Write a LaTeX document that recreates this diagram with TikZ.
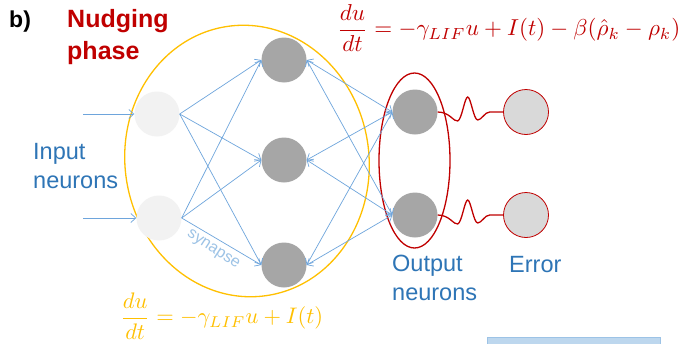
\documentclass[tikz,border=0pt]{standalone}
\usepackage{fontspec}
\setmainfont{Liberation Sans}
\usetikzlibrary{arrows.meta}
\definecolor{txtblue}{RGB}{46,117,182}
\definecolor{connblue}{RGB}{110,165,220}
\definecolor{synblue}{RGB}{157,195,230}
\definecolor{nred}{RGB}{192,0,0}
\definecolor{nyellow}{RGB}{255,192,0}
\definecolor{inputgray}{RGB}{242,242,242}
\definecolor{hidgray}{RGB}{166,166,166}
\definecolor{errgray}{RGB}{217,217,217}
\definecolor{boxblue}{RGB}{189,215,238}
\tikzset{
  neuron/.style={circle,minimum size=45pt,inner sep=0pt},
  inneuron/.style={neuron,fill=inputgray},
  hidneuron/.style={neuron,fill=hidgray},
  errneuron/.style={neuron,fill=errgray,draw=nred,line width=0.8pt},
  conn/.style={draw=connblue,line width=0.7pt,-{Straight Barb[length=5pt,width=9pt]}},
  biconn/.style={draw=connblue,line width=0.7pt,{Straight Barb[length=5pt,width=9pt]}-{Straight Barb[length=5pt,width=9pt]}},
  wave/.style={draw=nred,line width=1.3pt},
  lbl/.style={text=txtblue,font=\fontsize{23.5}{29}\selectfont,align=left,inner sep=0pt},
}
\begin{document}
\begin{tikzpicture}[x=1pt,y=-1pt]
\clip (0,0) rectangle (685,343);
\fill[white] (0,0) rectangle (685,343);

% title
\node[anchor=base west,inner sep=0pt,font=\fontsize{23}{28}\selectfont\bfseries] (b) at (9,27) {b)};
\node[anchor=base west,inner sep=0pt,text=nred,font=\fontsize{25}{32}\selectfont\bfseries] (t1) at (67,27) {Nudging};
\node[anchor=base west,inner sep=0pt,text=nred,font=\fontsize{25}{32}\selectfont\bfseries] (t2) at (67,59) {phase};

% yellow ellipse
\draw[nyellow,line width=1.3pt,rotate around={8:(247,161)}] (247,161) ellipse [x radius=122pt,y radius=136pt];
% red ellipse
\draw[nred,line width=1.3pt] (414.5,160.5) ellipse [x radius=35.5pt,y radius=87.5pt];

% neurons
\node[inneuron] (in1) at (157,114) {};
\node[inneuron] (in2) at (159,218) {};
\node[hidneuron] (h1) at (284,60) {};
\node[hidneuron] (h2) at (284,160) {};
\node[hidneuron] (h3) at (284,265) {};
\node[hidneuron] (o1) at (415,112) {};
\node[hidneuron] (o2) at (415,215) {};
\node[errneuron] (e1) at (526,112) {};
\node[errneuron] (e2) at (526,215) {};

% inputs
\coordinate (s1) at (83,114);
\coordinate (s2) at (83,218);
\draw[conn] (s1) -- (in1.west);
\draw[conn] (s2) -- (in2.west);

% input -> hidden
\foreach \i in {in1,in2}{
  \foreach \h in {h1,h2,h3}{
    \draw[conn] (\i.east) -- (\h.west);
  }
}
% hidden <-> output
\foreach \h in {h1,h2,h3}{
  \foreach \o in {o1,o2}{
    \draw[biconn] (\h.east) -- (\o.west);
  }
}

% wavy links
\foreach \o/\e in {o1/e1,o2/e2}{
  \draw[wave] (\o.east) .. controls +(12,0) and +(-4,1) .. ++(20,9)
    .. controls +(4,-1) and +(-3,0) .. ++(10,-24)
    .. controls +(3,0) and +(-4,0) .. ++(10,23)
    .. controls +(4,0) and +(-5,0) .. ++(12,-8) -- (\e.west);
}

% labels
\node[lbl,anchor=base west] (inlbl) at (33,188) {Input\\neurons};
\node[lbl,anchor=base west] (outlbl) at (392,300) {Output\\neurons};
\node[lbl,anchor=base west] (errlbl) at (509,272) {Error};
\node[text=synblue,font=\fontsize{16}{19}\selectfont,rotate=-33,inner sep=0pt] (syn) at (213,250) {synapse};

% equations
\node[anchor=west,inner sep=0pt,text=nred] (eqtop) at (337,28)
  {\resizebox{343pt}{!}{$\displaystyle\frac{du}{dt}=-\gamma_{LIF}u+I(t)-\beta(\hat{\rho}_k-\rho_k)$}};
\node[anchor=west,inner sep=0pt,text=nyellow] (eqbot) at (120,316)
  {\resizebox{203pt}{!}{$\displaystyle\frac{du}{dt}=-\gamma_{LIF}u+I(t)$}};

% partial box at bottom
\draw[fill=boxblue,draw=synblue,line width=0.8pt] (487,337) rectangle (660,352);
\end{tikzpicture}
\end{document}
